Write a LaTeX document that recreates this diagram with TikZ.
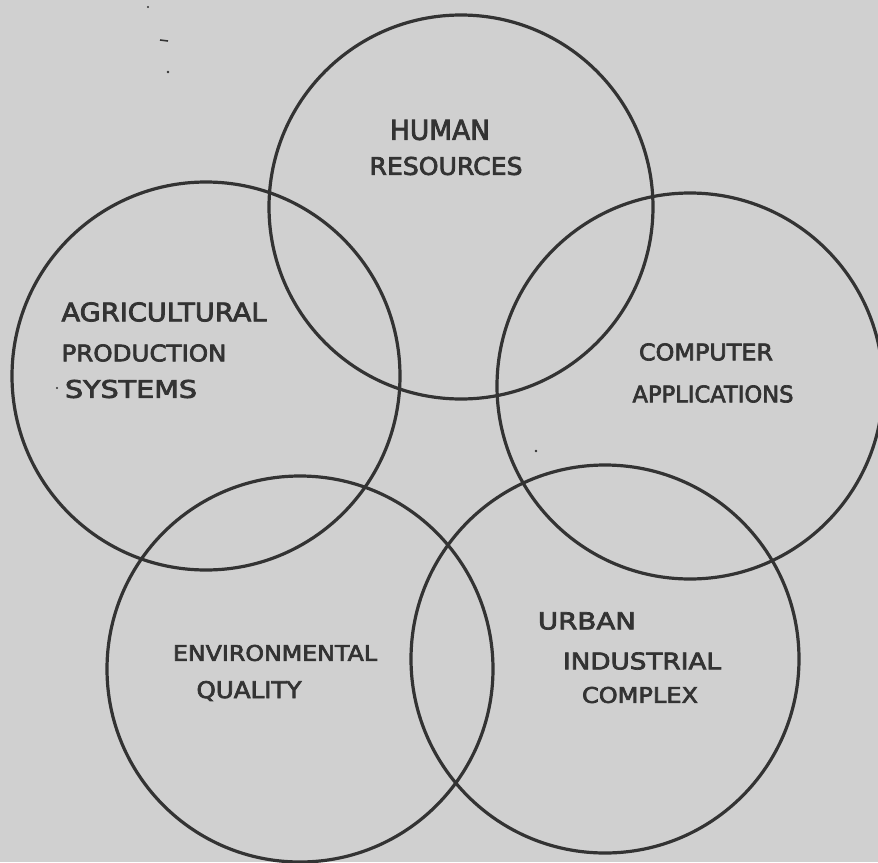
\documentclass[tikz,border=0pt]{standalone}
\usepackage{fontspec}
\setmainfont{DejaVu Sans}
\newfontfamily\handfont[FakeBold=3]{DejaVu Sans}
\usepackage{graphicx}
\definecolor{paper}{HTML}{D0D0D0}
\definecolor{ink}{HTML}{333333}
% lettering set to a given width and cap height (in pt)
\newcommand\hwtext[3]{\resizebox{#1pt}{#2pt}{\handfont #3}}
\begin{document}
\begin{tikzpicture}[x=1pt,y=-1pt,
  ring/.style={circle, draw=ink, line width=3.2pt, inner sep=0pt, minimum size=#1},
  word/.style={inner sep=0pt, text=ink, anchor=center},
  speck/.style={fill=ink, draw=none}]
  % sheet
  \fill[paper] (0,0) rectangle (878,862);
  \useasboundingbox (0,0) rectangle (878,862);

  % the five overlapping areas
  \node[ring=384pt] (hum) at (461,207) {};
  \node[ring=388pt] (agr) at (206,376) {};
  \node[ring=386pt] (cmp) at (690,386) {};
  \node[ring=386pt] (env) at (300,669) {};
  \node[ring=388pt] (urb) at (605,659) {};

  % labels
  \node[word] (hum1) at (440,130) {\hwtext{100}{20}{HUMAN}};
  \node[word] (hum2) at (446,166) {\hwtext{153}{18}{RESOURCES}};

  \node[word] (agr1) at (164,312) {\hwtext{205}{19}{AGRICULTURAL}};
  \node[word] (agr2) at (144,353) {\hwtext{165}{17}{PRODUCTION}};
  \node[word] (agr3) at (131,389) {\hwtext{132}{18}{SYSTEMS}};

  \node[word] (cmp1) at (706,352) {\hwtext{134}{17}{COMPUTER}};
  \node[word] (cmp2) at (713,394) {\hwtext{161}{17}{APPLICATIONS}};

  \node[word] (env1) at (275,653) {\hwtext{204}{16}{ENVIRONMENTAL}};
  \node[word] (env2) at (249,691) {\hwtext{105}{17}{QUALITY}};

  \node[word] (urb1) at (587,621) {\hwtext{98}{17}{URBAN}};
  \node[word] (urb2) at (642,661) {\hwtext{158}{17}{INDUSTRIAL}};
  \node[word] (urb3) at (640,695) {\hwtext{116}{16}{COMPLEX}};

  % stray marks on the sheet
  \fill[speck] (148,7) circle (1.1);
  \draw[ink, line width=1.6pt] (160,40) -- (168,41);
  \fill[speck] (168,72) circle (1.3);
  \fill[speck] (57,388) circle (1.1);
  \fill[speck] (536,451) circle (1.4);
\end{tikzpicture}
\end{document}
